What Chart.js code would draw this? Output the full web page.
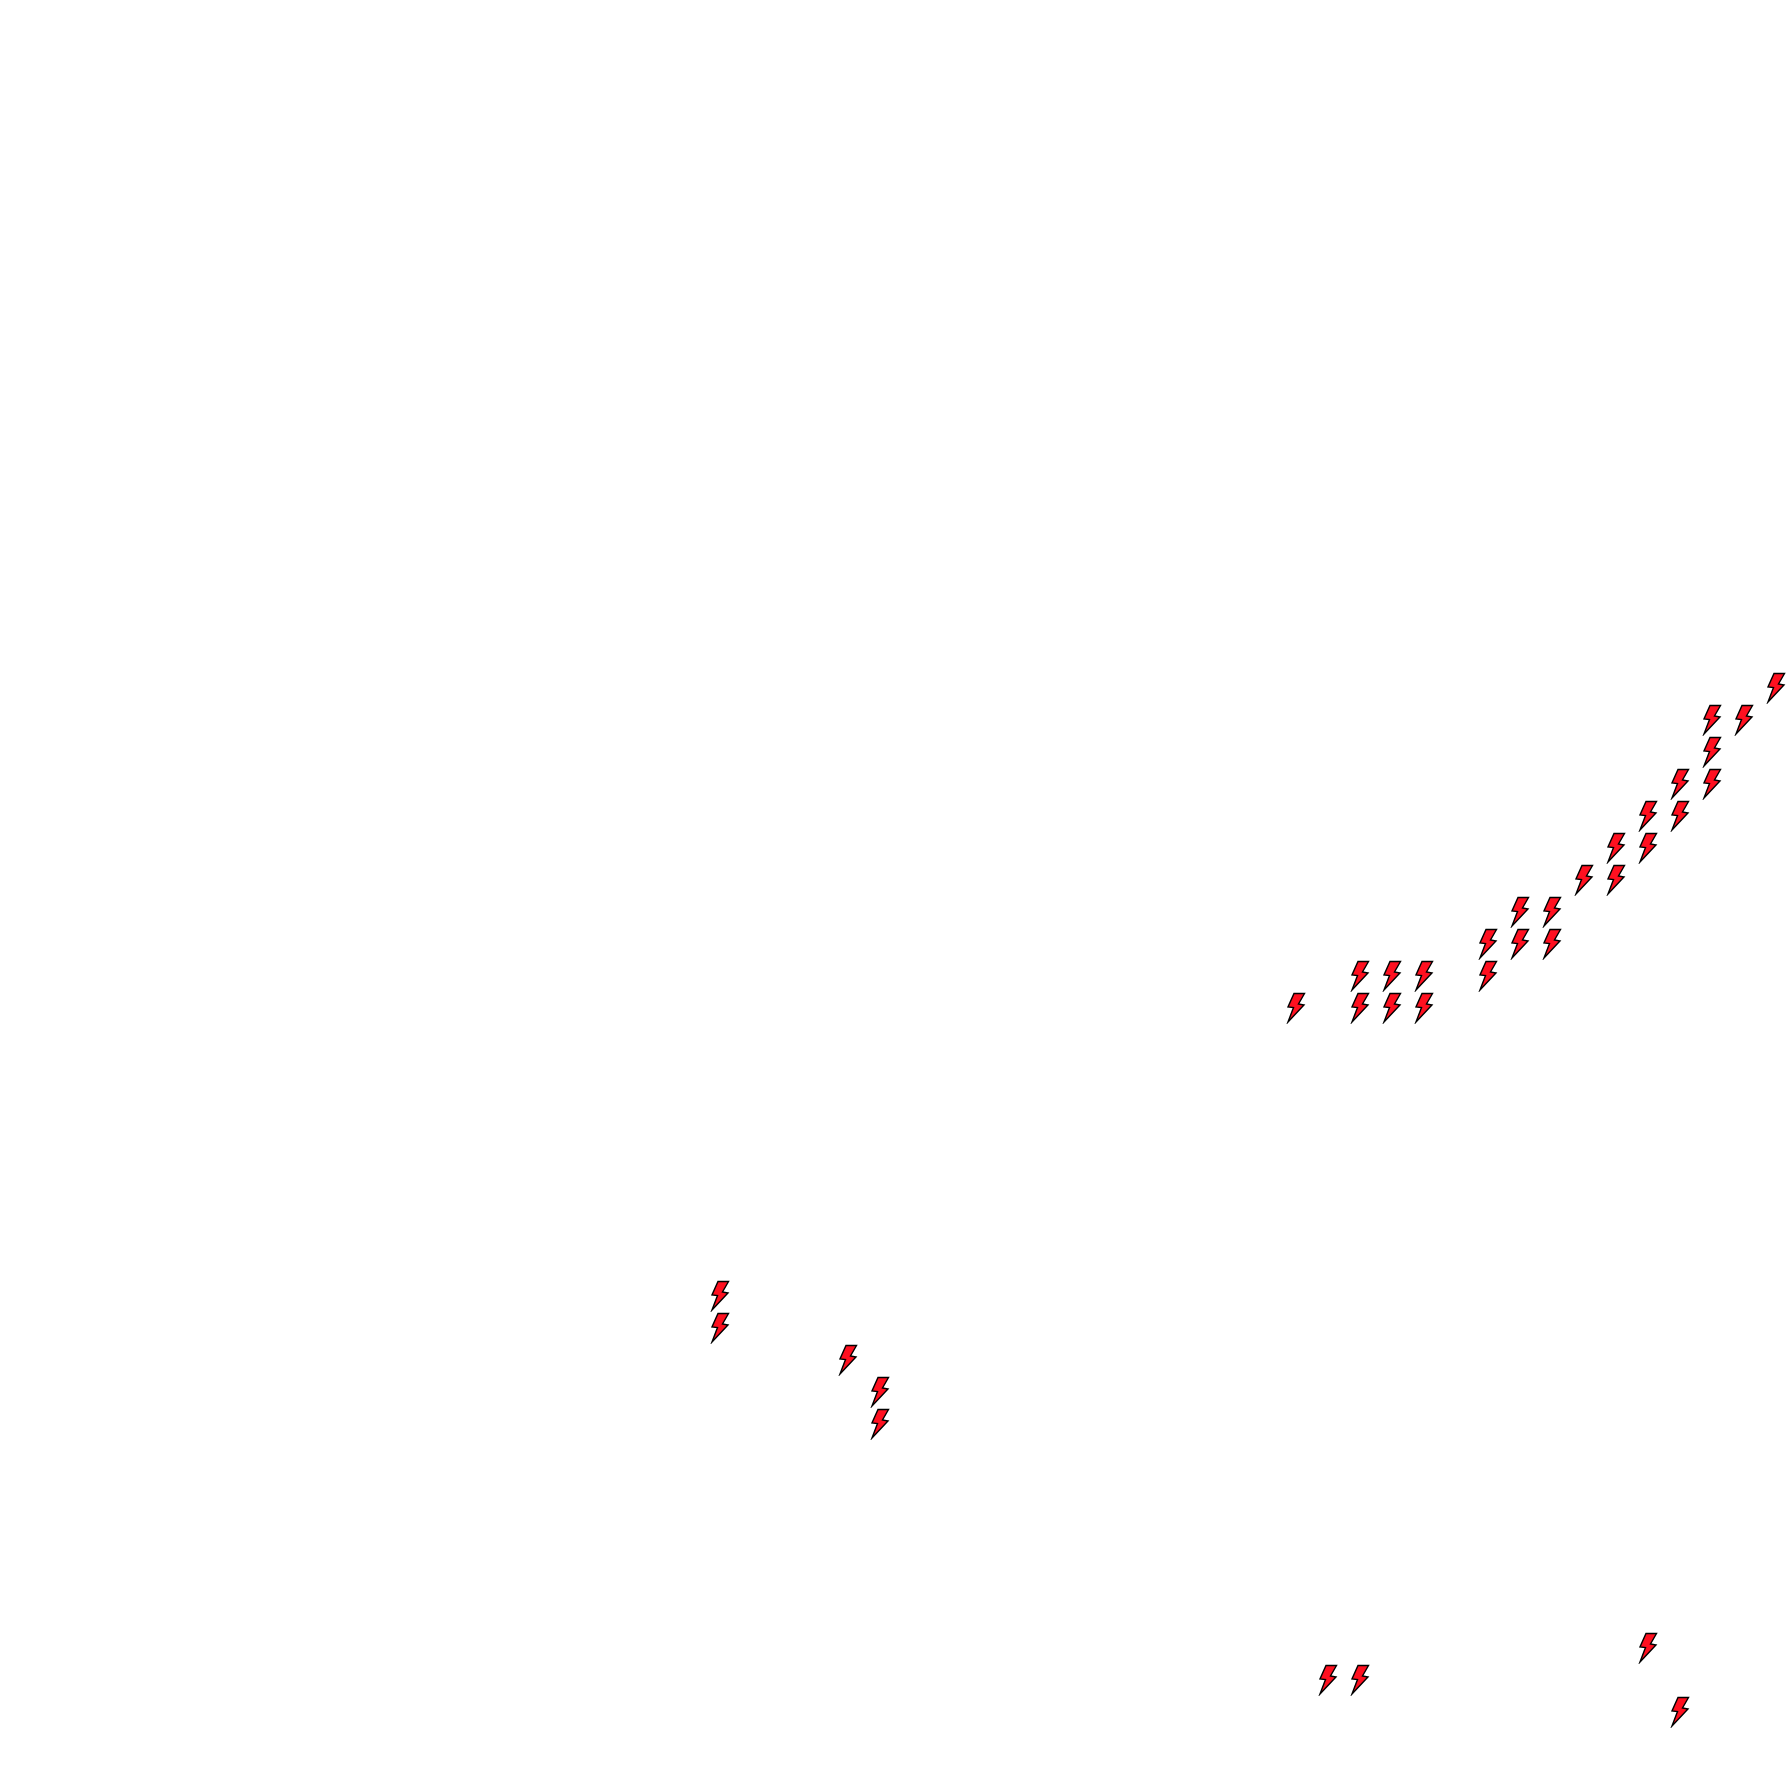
<!DOCTYPE html>
<html><head><meta charset="UTF-8">
  <title>Bolts</title>
  <script src="https://cdn.jsdelivr.net/npm/chart.js@4/dist/chart.umd.js"></script>
  <style>
  html, body { margin: 0; padding: 0; background: #fff; }
  canvas { display: block; }
  </style>
</head>
<body>
  <canvas id="bolt-chart" width="1792" height="1792"></canvas>
  <script>
    // columns and rows of the grid, row 0 on top
    var xValues = [55, 53, 54, 53, 52, 53, 51, 52, 50, 51, 49, 50, 47, 48, 46, 47, 48, 42, 43, 44, 46, 40, 42, 43, 44, 22, 22, 26, 27, 27, 51, 41, 42, 52];
    var yValues = [21, 22, 22, 23, 24, 24, 25, 25, 26, 26, 27, 27, 28, 28, 29, 29, 29, 30, 30, 30, 30, 31, 31, 31, 31, 40, 41, 42, 43, 44, 51, 52, 52, 53];

    // bolt marker
    var bolt = document.createElement('canvas');
    bolt.width = 20;
    bolt.height = 32;
    var c = bolt.getContext('2d');
    c.beginPath();
    c.moveTo(8, 1.5);
    c.lineTo(18.5, 1.5);
    c.lineTo(12.5, 12);
    c.lineTo(18, 13);
    c.lineTo(2, 30);
    c.lineTo(7.5, 15.5);
    c.lineTo(2, 15);
    c.closePath();
    c.fillStyle = '#ff1020';
    c.fill();
    c.strokeStyle = '#000';
    c.lineWidth = 1.4;
    c.stroke();

    new Chart(document.getElementById('bolt-chart'), {
      type: 'scatter',
      data: {
        datasets: [{
          data: xValues.map(function(x, i) { return { x: x, y: yValues[i] }; }),
          pointStyle: bolt
        }]
      },
      options: {
        responsive: false,
        animation: false,
        layout: { padding: 0, autoPadding: false },
        plugins: { legend: { display: false }, tooltip: { enabled: false } },
        scales: {
          x: { display: false, min: -0.5, max: 55.5 },
          y: { display: false, min: -0.5, max: 55.5, reverse: true }
        }
      }
    });
  </script>
</body></html>
